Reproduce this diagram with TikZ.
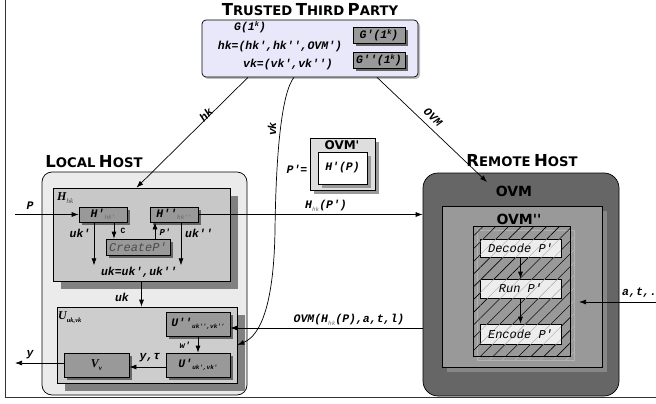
\documentclass[tikz,border=0pt]{standalone}
\usepackage{fontspec}
\setmainfont{Liberation Serif}
\newfontfamily\mf{Liberation Mono}
\newfontfamily\tf{DejaVu Sans}
\usetikzlibrary{patterns.meta,arrows.meta}
\newcommand\fs[1]{\fontsize{#1}{#1}\selectfont}
\newcommand\mb{\mf\bfseries\itshape}
\newcommand\ttl[2]{{\fs{16.5}#1}{\fs{13.2}#2}}
\newcommand\sps[1]{\raisebox{4pt}{\fs{7}#1}}
\newcommand\subg[1]{\raisebox{-2.5pt}{\fs{6}\mdseries\color{black!60}#1}}
\newcommand\subb[1]{\raisebox{-2.5pt}{\fs{6}#1}}
\definecolor{ttpc}{RGB}{232,232,250}
\definecolor{lhc}{RGB}{235,235,235}
\definecolor{hc}{RGB}{200,200,200}
\definecolor{uc}{RGB}{205,205,205}
\definecolor{gg}{RGB}{153,153,153}
\tikzset{
  shd/.style args={#1 by #2}{preaction={fill=#1,transform canvas={shift={(#2,-#2)}}}},
  sz/.style 2 args={minimum width=#1,minimum height=#2,inner sep=0pt},
  lab/.style={font=\mb\fs{11.5},inner sep=1pt},
  gbox/.style={draw,line width=0.7pt,fill=gg,shd={black!60 by 3pt},lab,inner sep=0pt},
  pbox/.style={draw,line width=0.7pt,fill=black!7,
    postaction={pattern={Lines[angle=45,distance=9pt,line width=0.4pt]},pattern color=black!35},
    font=\mf\itshape\fs{12},inner sep=0pt},
  arr/.style={-{Latex[length=7pt,width=5pt]},line width=0.7pt},
  ttlf/.style={font=\tf\bfseries,inner sep=0pt},
}
\begin{document}
\begin{tikzpicture}[x=1pt,y=-1pt]
\useasboundingbox (0,0) rectangle (656,404);
\draw[line width=1pt,black!80] (5,0) -- (5,397) -- (656,397);

% trusted third party
\node[ttlf] (ttpt) at (310,10) {\ttl{T}{RUSTED} \ttl{T}{HIRD} \ttl{P}{ARTY}};
\node[draw,line width=0.7pt,fill=ttpc,rounded corners=4pt,sz={216pt}{57pt},shd={black!25 by 2pt}] (ttp) at (310,48.5) {};
\node[lab] (gk) at (250,27) {G(1\sps{k})};
\node[lab] (hkdef) at (280,47) {hk=(hk',hk'',OVM')};
\node[lab] (vkdef) at (288,65) {vk=(vk',vk'')};
\node[gbox,sz={52pt}{16pt}] (g1) at (379,35) {G'(1\sps{k})};
\node[gbox,sz={52pt}{16pt}] (g2) at (379,60) {G''(1\sps{k})};

% local host
\node[ttlf] (lht) at (94,162) {\ttl{L}{OCAL} \ttl{H}{OST}};
\node[draw,line width=0.7pt,fill=lhc,rounded corners=10pt,sz={205pt}{223pt}] (lh) at (144.5,283.5) {};
\node[draw,line width=0.7pt,fill=hc,sz={177pt}{93pt},shd={black!50 by 8pt}] (Hb) at (141.5,234.5) {};
\node[anchor=west,inner sep=0pt] (Hl) at (57,198) {\fs{12}\bfseries\itshape H\raisebox{-3pt}{\fs{7}\mdseries\color{black!70}hk}};
\node[gbox,sz={48pt}{15pt}] (Hp) at (103,214.5) {H'\subg{hk'}};
\node[gbox,sz={48pt}{15pt}] (Hpp) at (174,214.5) {H''\subg{hk''}};
\node[gbox,sz={64pt}{16pt},font=\mf\itshape\fs{12},text=black!70] (cp) at (138,247) {CreateP'};
\coordinate (pin) at (15,214.5);
\draw[arr] (pin) -- (Hp.west);
\node[lab] (Pl) at (30,206) {P};
\draw[arr] ([xshift=-9pt]Hp.south) -- ++(0,43);
\draw[arr] ([xshift=11pt]Hp.south) -- ([xshift=11pt]Hp.south |- cp.north);
\draw[arr] ([xshift=-19pt]Hpp.south |- cp.north) -- ([xshift=-19pt]Hpp.south);
\draw[arr] ([xshift=7pt]Hpp.south) -- ++(0,43);
\node[lab] (ukp) at (80,233) {uk'};
\node[font=\mf\bfseries\fs{8},inner sep=0pt] (Cl) at (123,231) {C};
\node[lab,font=\mb\fs{9}] (Ppl) at (165,232) {P'};
\node[lab] (ukpp) at (199,233) {uk''};
\node[lab] (ukt) at (139,272) {uk=uk',uk''};

\node[draw,line width=0.7pt,fill=uc,sz={180pt}{76pt},shd={black!50 by 8pt}] (Ub) at (147,345) {};
\draw[arr] (Hb.south) -- (Hb.south |- Ub.north);
\node[lab] (ukl) at (122,297) {uk};
\node[anchor=west,inner sep=0pt] (Ul) at (58,318) {\fs{12}\bfseries\itshape U\raisebox{-3pt}{\fs{6.5}uk,vk}};
\node[gbox,sz={64pt}{24pt}] (Upp) at (198,324) {U''\subb{uk'',vk''}};
\node[gbox,sz={64pt}{24pt}] (Up) at (198,365) {U'\subb{uk',vk'}};
\node[gbox,sz={65pt}{24pt},font=\bfseries\itshape\fs{12}] (Vb) at (96.5,365) {V\raisebox{-3pt}{\fs{7}v}};
\draw[arr] (Upp.south) -- (Up.north);
\node[lab,font=\mb\fs{9}] (wl) at (185,345) {w'};
\draw[arr] ([yshift=-2pt]Up.west) -- ([yshift=-2pt]Vb.east);
\node[lab] (ytl) at (150,358) {y,τ};
\coordinate (yout) at (15,363);
\draw[arr] ([yshift=2pt]Vb.west) -- (yout);
\node[lab] (yl) at (30,355) {y};

% OVM' box
\node[draw,line width=0.7pt,fill=black!13,sz={65pt}{52pt},shd={black!40 by 4pt}] (ovmp) at (342.5,164) {};
\node[font=\tf\bfseries\fs{12},inner sep=0pt] (ovmpl) at (342,145) {OVM'};
\node[draw,line width=0.7pt,fill=white,sz={49pt}{32pt},shd={black!40 by 4pt},lab] (hpP) at (342.5,168) {H'(P)};
\node[lab] (peq) at (297,169) {P'=};

% remote host
\node[ttlf] (rht) at (522,161) {\ttl{R}{EMOTE} \ttl{H}{OST}};
\node[draw,line width=0.7pt,fill=black!60,rounded corners=15pt,sz={196pt}{223pt}] (rem) at (521,284.5) {};
\node[font=\tf\bfseries\fs{14},inner sep=0pt] (ovml) at (514,191) {OVM};
\node[draw,line width=0.7pt,fill=black!40,sz={160pt}{161pt},shd={black!47 by 5pt}] (ovm2) at (522,286.5) {};
\node[font=\tf\bfseries\fs{14},inner sep=0pt] (ovm2l) at (519,219) {OVM''};
\node[draw=black!30,pattern={Lines[angle=45,distance=9pt,line width=0.5pt]},pattern color=black!28,sz={97pt}{130pt}] (hats) at (525.5,295) {};
\node[draw,line width=0.8pt,pattern={Lines[angle=45,distance=9pt,line width=0.6pt]},pattern color=black,sz={97pt}{130pt}] (hat) at (521.5,291) {};
\node[pbox,sz={81pt}{18pt}] (dec) at (520.5,248) {Decode P'};
\node[pbox,sz={81pt}{19pt}] (run) at (520.5,288.5) {Run P'};
\node[pbox,sz={81pt}{20pt}] (enc) at (520.5,334) {Encode P'};
\draw[arr] (dec.south) -- (run.north);
\draw[arr] (run.south) -- (enc.north);
\coordinate (ain) at (656,302);
\coordinate (aend) at (579,302);
\draw[arr] (ain) -- (aend);
\node[lab,anchor=west] (atl) at (621,293) {a,t,.};

% connectors between parts
\draw[arr] (Hpp.east) -- (Hpp.east -| rem.west);
\node[lab] (hhp) at (326,206) {H\subg{hk}(P')};
\draw[arr] (rem.west |- 0,328) -- ([yshift=-4pt]Upp.east);
\node[lab] (ovmcall) at (349,320) {OVM(H\subg{hk}(P),a,t,l)};
\draw[arr] ([xshift=-62pt]ttp.south) -- ([xshift=-5pt]Hb.north);
\node[lab,rotate=45,inner sep=0pt] (hkl) at (206,115) {hk};
\coordinate (ovmin) at (487,182);
\draw[arr] ([xshift=67pt]ttp.south) -- (ovmin);
\node[lab,rotate=-43,inner sep=0pt] (ovmlab) at (433,117) {OVM};
\draw[arr] ([xshift=-16pt]ttp.south) .. controls (282,92) and (276,150) .. (275,230) .. controls (274,300) and (262,335) .. (Ub.east);
\node[lab,rotate=90,inner sep=0pt] (vkl) at (272,129) {vk};
\end{tikzpicture}
\end{document}
